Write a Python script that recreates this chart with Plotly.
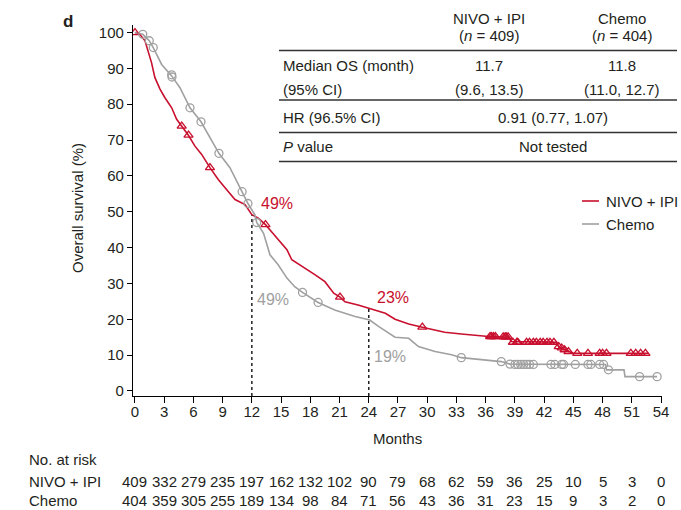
import plotly.graph_objects as go

# ---------------- data ----------------
nivo_t = [0, 0.5, 1.03, 1.37, 1.7, 2.05, 2.57, 3.08, 3.77, 4.28, 4.79, 5.47, 6.16, 6.85, 7.7,
          8.55, 9.4, 10.27, 11.3, 12.0, 12.66, 13.4, 14.0, 14.9, 15.6, 16.1, 17.45, 18.5, 19.5,
          20.4, 21.05, 21.56, 22.9, 24.1, 25.7, 26.7, 28.1, 29.5, 31.8, 33.5, 36.3, 38.4, 38.6,
          43.2, 43.5, 44.1, 45.0, 52.7]
nivo_s = [100, 99.5, 97.7, 94.4, 91.6, 87.4, 84.2, 81.8, 79.0, 75.8, 73.9, 71.4, 68.3, 66.0, 62.3,
          59.0, 56.2, 53.4, 52.0, 49.2, 48.2, 46.4, 44.5, 41.7, 39.4, 36.6, 34.3, 32.4, 30.5,
          27.3, 26.2, 24.9, 24.0, 23.1, 21.7, 20.0, 18.7, 17.8, 16.4, 15.9, 15.2, 15.0, 13.8,
          13.6, 12.4, 11.5, 10.5, 10.5]

chemo_t = [0, 0.8, 1.47, 1.88, 2.74, 3.77, 4.62, 5.65, 6.78, 7.7, 8.62, 9.75, 11.0, 11.6, 12.3,
           12.5, 13.2, 13.86, 14.7, 15.6, 16.4, 17.2, 18.8, 20.5, 22.6, 24.1, 25.0, 26.7, 28.1,
           29.1, 30.8, 32.5, 33.5, 35.6, 37.6, 38.5, 48.3, 48.4, 50.2, 50.3, 53.6]
chemo_s = [100, 99.5, 97.7, 95.8, 91.1, 87.9, 84.6, 79.0, 75.1, 70.7, 66.3, 62.3, 55.6, 52.3, 49.2,
           47.0, 44.0, 38.0, 35.2, 31.5, 29.1, 27.5, 24.7, 22.6, 20.8, 19.8, 18.0, 15.0, 14.7,
           12.4, 11.0, 10.1, 9.3, 8.7, 8.2, 7.5, 7.4, 5.9, 5.9, 4.0, 4.0]

nivo_cens_t = [0, 4.8, 5.5, 7.7, 13.4, 21.05, 29.5, 36.45, 36.6, 36.8, 37.0, 37.8, 38.0, 38.1, 38.3,
               38.8, 39.2, 39.3, 40.2, 40.5, 40.9, 41.2, 41.6, 41.9, 42.3, 42.6, 43.0,
               43.5, 43.8, 44.1, 44.5, 45.4, 46.5, 47.7, 48.0, 48.4, 50.9, 51.4, 51.9, 52.4]
nivo_cens_s = [100, 73.9, 71.4, 62.3, 46.4, 26.2, 17.8, 15.2, 15.2, 15.2, 15.2, 15.1, 15.1, 15.1, 15.1,
               13.6, 13.6, 13.6, 13.6, 13.6, 13.6, 13.6, 13.6, 13.6, 13.6, 13.6, 13.6,
               12.4, 12.0, 11.5, 11.0, 10.5, 10.5, 10.5, 10.5, 10.5, 10.5, 10.5, 10.5, 10.5]

chemo_cens_t = [0.8, 1.47, 1.88, 3.77, 3.8, 5.65, 6.78, 8.62, 11.0, 11.6, 12.5, 17.2, 18.8, 33.5,
                37.6, 38.5, 39.0, 39.3, 39.6, 39.9, 40.2, 40.5, 40.9, 42.7, 43.1, 43.8, 44.0,
                45.2, 46.5, 46.8, 47.7, 48.1, 48.6, 51.8, 53.6]
chemo_cens_s = [99.5, 97.7, 95.8, 88.2, 87.6, 79.0, 75.1, 66.3, 55.6, 52.3, 47.0, 27.5, 24.7, 9.3,
                8.2, 7.5, 7.4, 7.4, 7.4, 7.4, 7.4, 7.4, 7.4, 7.4, 7.4, 7.4, 7.4,
                7.4, 7.4, 7.4, 7.4, 7.4, 5.9, 4.0, 4.0]

x_ticks = list(range(0, 55, 3))
y_ticks = list(range(0, 101, 10))
risk_nivo = [409, 332, 279, 235, 197, 162, 132, 102, 90, 79, 68, 62, 59, 36, 25, 10, 5, 3, 0]
risk_chemo = [404, 359, 305, 255, 189, 134, 98, 84, 71, 56, 43, 36, 31, 23, 15, 9, 3, 2, 0]

landmark_t = [12, 24]
landmark_nivo = [49, 23]
landmark_chemo = [49, 19]

# ---------------- styling ----------------
RED = "#c8102e"
GRAY = "#a0a0a0"
TXT = "#231f20"
FONT = "Liberation Sans, Arial, Helvetica, sans-serif"

W, H = 681, 510
L, R, T, B = 133, 19, 25, 114
PW, PH = W - L - R, H - T - B


def px(x):
    return (x - L) / PW


def py(y):
    return (H - B - y) / PH


fig = go.Figure()

fig.add_trace(go.Scatter(x=nivo_t, y=nivo_s, mode="lines",
                         line=dict(color=RED, width=1.6), showlegend=False))
fig.add_trace(go.Scatter(x=chemo_t, y=chemo_s, mode="lines",
                         line=dict(color=GRAY, width=1.6), showlegend=False))
fig.add_trace(go.Scatter(x=nivo_cens_t, y=nivo_cens_s, mode="markers",
                         marker=dict(symbol="triangle-up-open", size=8, color=RED,
                                     line=dict(width=1.3, color=RED)),
                         showlegend=False))
fig.add_trace(go.Scatter(x=chemo_cens_t, y=chemo_cens_s, mode="markers",
                         marker=dict(symbol="circle-open", size=8, color=GRAY,
                                     line=dict(width=1.3, color=GRAY)),
                         showlegend=False))

shapes = []
annotations = []

# landmark dashed lines
for t, s in zip(landmark_t, landmark_nivo):
    shapes.append(dict(type="line", xref="x", yref="y", x0=t, x1=t, y0=-1.4, y1=s,
                       line=dict(color="#222222", width=1.5, dash="3px,3px")))

annotations += [
    dict(x=px(277), y=py(203), text="49%", font=dict(color=RED, size=16)),
    dict(x=px(273), y=py(299), text="49%", font=dict(color=GRAY, size=16)),
    dict(x=px(393), y=py(297), text="23%", font=dict(color=RED, size=16)),
    dict(x=px(390), y=py(356), text="19%", font=dict(color=GRAY, size=16)),
]

# legend
shapes.append(dict(type="line", xref="paper", yref="paper", x0=px(582), x1=px(599),
                   y0=py(201), y1=py(201), line=dict(color=RED, width=1.6)))
shapes.append(dict(type="line", xref="paper", yref="paper", x0=px(582), x1=px(599),
                   y0=py(224), y1=py(224), line=dict(color=GRAY, width=1.6)))
annotations += [
    dict(x=px(604), y=py(201), text="NIVO + IPI", xanchor="left", font=dict(size=15)),
    dict(x=px(604), y=py(224), text="Chemo", xanchor="left", font=dict(size=15)),
]

# summary table
for yy in [50.5, 100, 132.5, 161.5]:
    shapes.append(dict(type="line", xref="paper", yref="paper", x0=px(279), x1=px(677),
                       y0=py(yy), y1=py(yy), line=dict(color="#333333", width=1.5)))
annotations += [
    dict(x=px(489), y=py(18), text="NIVO + IPI"),
    dict(x=px(489), y=py(35), text="(<i>n</i> = 409)"),
    dict(x=px(622), y=py(18), text="Chemo"),
    dict(x=px(622), y=py(35), text="(<i>n</i> = 404)"),
    dict(x=px(281), y=py(65), text="Median OS (month)", xanchor="left"),
    dict(x=px(489), y=py(65), text="11.7"),
    dict(x=px(622), y=py(65), text="11.8"),
    dict(x=px(281), y=py(89), text="(95% CI)", xanchor="left"),
    dict(x=px(489), y=py(89), text="(9.6, 13.5)"),
    dict(x=px(622), y=py(89), text="(11.0, 12.7)"),
    dict(x=px(281), y=py(117), text="HR (96.5% CI)", xanchor="left"),
    dict(x=px(553), y=py(117), text="0.91 (0.77, 1.07)"),
    dict(x=px(281), y=py(146), text="<i>P</i> value", xanchor="left"),
    dict(x=px(553), y=py(146), text="Not tested"),
]

# panel letter, axis titles
annotations += [
    dict(x=px(68), y=py(22), text="<b>d</b>", font=dict(size=17)),
    dict(x=px(77), y=py(208), text="Overall survival (%)", textangle=-90),
    dict(x=px(397), y=py(438), text="Months"),
    dict(x=px(27), y=py(459), text="No. at risk", xanchor="left"),
    dict(x=px(27), y=py(481), text="NIVO + IPI", xanchor="left"),
    dict(x=px(27), y=py(500), text="Chemo", xanchor="left"),
]

# numbers at risk
for t, n1, n2 in zip(x_ticks, risk_nivo, risk_chemo):
    annotations.append(dict(x=t, xref="x", y=py(481), text=str(n1)))
    annotations.append(dict(x=t, xref="x", y=py(500), text=str(n2)))

for a in annotations:
    a.setdefault("xref", "paper")
    a.setdefault("yref", "paper")
    a.setdefault("showarrow", False)
    a.setdefault("xanchor", "center")
    a.setdefault("yanchor", "middle")
    f = a.setdefault("font", {})
    f.setdefault("size", 15)
    f.setdefault("color", TXT)
    f.setdefault("family", FONT)

fig.update_layout(
    width=W, height=H, autosize=False,
    margin=dict(l=L, r=R, t=T, b=B, pad=0),
    paper_bgcolor="white", plot_bgcolor="white",
    font=dict(family=FONT, size=15, color=TXT),
    shapes=shapes, annotations=annotations,
    xaxis=dict(range=[-0.2, 54.1], tickmode="array", tickvals=x_ticks,
               showgrid=False, zeroline=False, showline=True, linecolor="black", linewidth=1.3,
               ticks="outside", ticklen=6, tickwidth=1.3, tickcolor="black",
               ticklabelstandoff=-4,
               tickfont=dict(size=15, color=TXT, family=FONT)),
    yaxis=dict(range=[-1.4, 102.1], tickmode="array", tickvals=y_ticks,
               showgrid=False, zeroline=False, showline=True, linecolor="black", linewidth=1.3,
               ticks="outside", ticklen=5, tickwidth=1.3, tickcolor="black",
               tickfont=dict(size=15, color=TXT, family=FONT)),
)

fig.write_html(
    "out.html",
    config={"displayModeBar": False},
    post_script="document.body.style.margin='0px';document.body.style.padding='0px';"
                "document.documentElement.style.overflow='hidden';",
)
